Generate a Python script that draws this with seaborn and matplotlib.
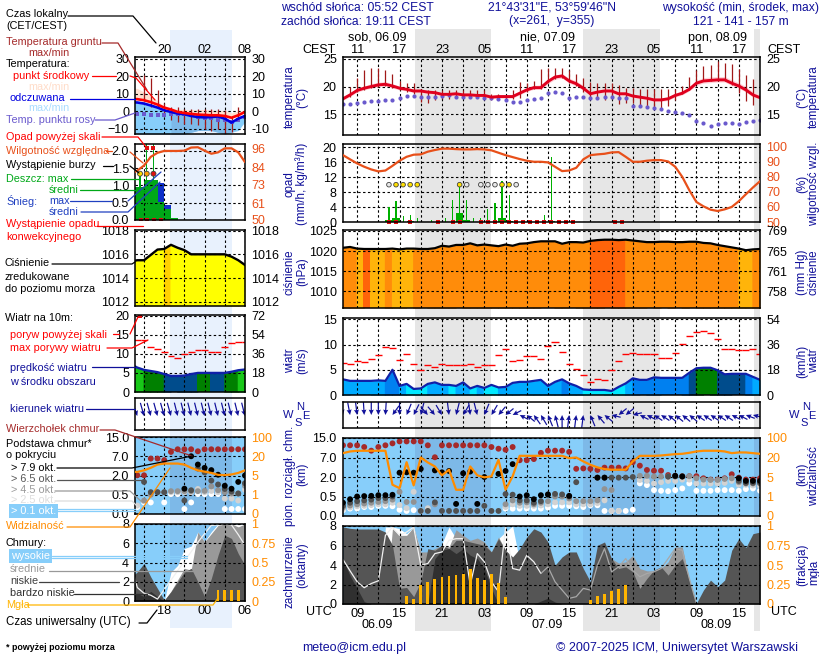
import numpy as np
import pandas as pd
import matplotlib.pyplot as plt
import seaborn as sns
from matplotlib.lines import Line2D

nan = np.nan

# main panels, one value per hour from 06.09 07 UTC
hours = list(range(60))
temp_mid = [17.8,18.5,19.3,19.7,20.0,20.3,20.4,20.1,19.7,19.5,19.2,19.2,19.0,18.9,18.6,18.6,18.7,18.5,18.5,18.4,18.4,18.1,18.2,18.2,18.2,18.8,19.4,19.8,19.8,20.9,21.7,21.9,21.0,20.5,19.7,18.7,19.0,19.2,19.2,18.7,18.7,18.3,18.1,17.9,17.6,17.6,17.8,18.4,18.8,19.5,20.6,21.0,21.1,21.2,21.2,20.6,20.1,19.4,18.5,18.0]
temp_upper = [18.1,18.8,19.7,20.1,20.5,20.8,20.9,20.5,20.1,19.8,19.5,19.5,19.3,19.2,18.9,18.9,19.0,18.8,18.8,18.7,18.7,18.4,18.5,18.5,18.5,19.1,19.8,20.2,20.3,21.3,22.1,22.3,21.5,21.0,20.2,19.1,19.4,19.6,19.6,19.1,19.0,18.6,18.4,18.2,17.9,17.9,18.1,18.8,19.2,20.0,21.1,21.6,21.7,21.8,21.8,21.2,20.7,20.0,19.1,18.4]
temp_lower = [17.5,18.2,19.0,19.4,19.7,20.0,20.1,19.7,19.4,19.2,18.9,18.9,18.7,18.6,18.3,18.3,18.4,18.2,18.2,18.1,18.1,17.8,17.9,17.9,17.9,18.5,19.1,19.5,19.5,20.5,21.3,21.5,20.6,20.1,19.3,18.4,18.7,18.9,18.9,18.4,18.4,18.0,17.8,17.6,17.3,17.3,17.5,18.1,18.5,19.2,20.2,20.6,20.7,20.8,20.8,20.2,19.7,19.0,18.1,17.7]
dew_point = [16.9,16.9,17.1,17.2,17.4,17.4,17.5,17.6,18.0,18.3,18.3,18.2,18.2,18.2,18.3,18.4,18.2,18.2,18.2,18.2,18.0,17.9,17.7,17.6,17.2,17.3,17.5,17.8,18.0,18.8,19.0,18.9,18.0,18.1,18.1,18.0,18.0,18.1,18.1,18.0,18.0,16.5,16.5,16.4,16.2,16.0,15.6,15.4,15.2,14.9,13.8,13.4,12.9,13.3,13.4,13.5,13.2,13.7,13.9,14.0]
ground_max = [18.0,20.0,21.5,23.0,23.3,23.3,22.9,22.3,21.0,20.6,20.6,19.5,19.3,19.3,19.3,19.3,19.3,19.3,19.3,19.3,19.3,18.7,18.7,18.3,19.3,20.9,20.7,21.0,23.1,23.3,23.3,23.3,22.9,22.3,21.6,20.8,20.7,20.7,20.7,20.2,19.8,19.7,19.5,19.5,19.5,19.5,19.5,19.5,20.1,21.7,23.0,23.7,23.8,24.5,24.3,24.1,23.2,22.0,21.3,18.7]
ground_min = [17.8,18.2,19.0,19.4,19.7,20.0,20.1,19.7,19.4,19.0,18.7,17.3,17.1,17.6,17.8,17.8,17.9,17.9,17.9,17.9,17.9,17.6,17.7,17.7,17.8,18.0,19.0,19.6,19.6,20.6,21.4,21.6,20.6,20.1,19.0,18.2,17.8,17.5,17.8,16.9,17.0,17.0,16.5,16.5,16.1,15.9,16.5,17.5,18.6,19.4,20.5,21.0,21.0,21.0,21.0,20.2,18.9,17.4,16.6,17.7]
humidity = [94.4,91.6,88.9,86.7,84.9,83.6,84.2,87.3,90.7,93.3,94.7,94.9,96.7,97.8,98.7,98.7,98.4,98.2,98.2,98.4,98.2,97.6,96.0,94.4,93.1,91.8,90.7,90.0,90.0,89.6,86.7,83.8,84.2,86.0,91.6,94.4,94.9,95.3,96.2,96.4,93.3,90.0,90.0,90.7,91.1,91.1,90.2,86.7,80.0,71.1,63.3,60.4,58.2,57.3,58.4,60.0,63.8,68.4,72.9,77.1]
rain_max = [0,0,0,0,0,0,4.0,5.5,1.5,2.0,1.0,0,0.5,0,1.0,6.0,9.8,5.8,1.0,1.2,3.6,5.0,11.0,7.3,0,0,0,0,2.0,17.5,0.6,0.5,0.3,0,0,0,0,0,0,0,0,0,0,0,0,0,0,0,0,0,0,0,0,0,0,0,0,0,0,0]
rain_mean = [0,0,0,0,0,0,0.5,1.2,0,0.4,0,0,0,0,0,0,2.3,0.6,0,0,0,0,1.2,0.4,0,0,0,0,0,0.3,0,0,0,0,0,0,0,0,0,0,0,0,0,0,0,0,0,0,0,0,0,0,0,0,0,0,0,0,0,0]
convective_hours = [6,7,9,13,15,16,19,20,21,22,23,24,25,26,27,28,29,30,31,32,38,39]
storm_hours = [6,7,8,9,10,16,17,19,20,21,22,23,24]
storm_kind = ['weak','likely','likely','likely','likely','likely','weak','weak','weak','weak','likely','likely','weak']
pressure = [1020.8,1021.0,1020.6,1020.5,1020.5,1020.5,1020.5,1020.6,1020.4,1020.6,1020.6,1020.5,1020.5,1020.7,1021.3,1021.1,1021.5,1021.5,1021.9,1021.4,1021.6,1021.4,1021.2,1021.6,1021.3,1021.8,1021.9,1022.2,1022.4,1022.4,1022.4,1021.8,1022.2,1022.2,1022.1,1022.5,1022.7,1022.8,1022.8,1022.7,1022.8,1022.6,1022.4,1022.2,1022.2,1022.3,1022.3,1022.2,1022.2,1022.3,1022.3,1022.0,1021.9,1021.5,1021.2,1020.9,1020.6,1020.2,1020.4,1020.5]
pressure_class = [1,1,0,2,0,0,1,0,0,0,1,1,1,1,1,1,1,1,1,1,1,1,1,1,1,1,1,1,1,1,1,1,1,1,1,2,2,2,2,2,1,1,1,1,1,1,1,1,1,1,1,1,1,1,1,1,0,0,1,1]
wind = [3.1,2.8,2.8,2.8,2.8,2.9,2.8,5.0,1.8,2.2,1.2,1.3,2.2,2.5,2.0,2.0,1.8,2.5,1.3,1.8,1.4,2.0,1.5,1.6,2.4,2.6,2.6,2.8,3.0,1.8,2.6,3.1,2.3,1.8,1.1,1.0,1.0,1.0,0.8,1.6,2.3,3.3,3.0,3.0,3.5,3.4,3.4,3.4,3.4,4.4,5.3,5.4,5.4,4.9,4.1,4.2,4.2,4.2,3.6,3.0]
wind_class = [1,1,1,1,1,1,2,2,1,0,0,0,1,1,1,0,1,1,0,1,0,0,1,1,1,1,1,1,1,1,1,2,1,1,0,0,0,0,0,0,1,2,2,2,2,2,2,2,2,3,4,4,4,3,3,3,3,2,1,1]
gust = [6.4,6.2,6.8,6.6,7.2,8.0,9.5,9.3,7.0,8.2,6.2,5.0,6.0,5.6,6.2,6.0,6.0,6.0,6.2,5.6,6.0,6.0,8.0,9.2,6.7,7.0,7.8,7.8,7.2,9.8,10.4,8.6,6.2,5.2,4.0,2.5,3.1,2.9,4.9,6.8,8.1,8.3,8.1,8.2,8.2,7.4,7.4,8.4,10.1,11.6,12.4,12.6,12.2,11.1,9.2,9.1,8.9,9.0,9.2,8.1]
wind_from = [345,345,350,355,0,0,5,45,0,30,35,20,310,310,320,350,20,40,350,340,30,40,50,60,70,110,120,135,140,150,160,180,190,190,190,150,130,120,100,60,60,80,110,110,115,115,120,120,120,120,115,115,115,115,115,110,110,105,100,95]
cloud_top = [12,12,12,11.3,9.8,11.3,12,12.8,13.6,13.6,13.6,13.6,12,7.1,12,12,12,12,12,12,12,11.3,10.6,10.2,11.3,6.3,6.3,6.6,8.9,9.8,9.8,9.8,9.3,4.1,4.2,4.1,3.8,4.4,4.4,4.4,4.2,5.8,4.9,3.8,3.6,3.6,2.5,2.3,2.2,2.2,2.2,1.9,1.8,1.8,1.9,2.7,1.95,1.8,1.8,1.9]
base_79 = [.34,.43,.5,.53,.55,.6,.6,.63,3.1,3.2,3.1,4.07,nan,3.7,3.2,3.55,.31,2.95,3.4,.31,2,nan,2.8,3.55,5.3,.5,.6,.43,.6,.65,nan,nan,.55,nan,nan,nan,1.95,1.95,nan,nan,nan,nan,nan,nan,nan,nan,nan,2.3,2.15,nan,nan,nan,nan,nan,nan,nan,1.9,1.7,1.7,1.7]
base_65 = [.26,.34,.38,.4,.42,.46,.46,.5,nan,nan,nan,.13,.13,.35,.13,.13,.13,.13,.13,.13,.26,.13,.13,.69,.64,.4,.4,.34,.38,.66,.7,.66,.5,1.6,nan,nan,1.95,1.95,1.95,1.95,1.95,2.0,nan,nan,nan,nan,2.1,2.2,2.1,nan,nan,nan,nan,nan,nan,nan,1.7,1.55,1.55,1.55]
base_45 = [.22,.27,.3,.32,.34,.36,.38,.42,.86,.36,.36,nan,nan,.3,nan,nan,nan,nan,nan,nan,nan,nan,nan,.3,.4,.34,.35,.3,.34,.38,.5,.5,.45,.38,.38,.38,.4,1.07,1.0,nan,nan,nan,2.3,2.3,2.1,2.1,2.1,2.1,2.2,2.2,1.9,1.8,1.77,1.77,1.85,1.9,1.6,1.5,1.5,1.5]
base_25 = [.18,.22,.25,.26,.28,.3,.3,.34,.28,.2,.86,.13,.2,nan,nan,nan,nan,nan,nan,nan,nan,nan,nan,.23,.3,.26,.26,.26,.27,.3,.35,.35,.35,.3,.3,.3,.33,.4,.13,.13,nan,nan,1.77,1.7,1.5,1.6,1.7,1.7,1.8,1.8,1.5,1.5,1.5,1.5,1.55,1.7,1.4,1.4,1.35,1.3]
base_01 = [.15,.19,.19,.23,.23,.26,.26,.25,.16,.13,.15,nan,nan,nan,nan,nan,nan,nan,nan,nan,nan,nan,nan,.19,.19,.19,.19,.19,.19,.215,.26,.26,.26,.25,.23,.276,.276,.13,.13,.13,.13,.16,1.51,1.38,.99,.94,.91,.99,1.12,1.51,.94,.94,.94,.99,.99,.99,.94,1.07,1.12,.94]
visibility = [37.9,44.8,47.6,47.6,47.6,47.6,47.6,3.41,2.72,16.4,3.28,20,16.2,13.1,6.3,10.6,2.38,2.38,13.1,6.3,4.93,5.5,18.2,2.38,5.5,26.9,26.9,26.9,26.9,26.9,26.9,26.9,19.5,20,17,14.4,12.4,11.1,10.6,10.6,10.6,17,26.9,26.9,26.9,28.3,31,33.8,35.2,39.3,44.8,47.6,47.6,47.6,44.8,37.9,40.7,40.7,37.9,35.2]
cover_high = [0,0,0,0,0,0,7.9,7.9,7.72,7.21,7.89,5.34,0,0,6.2,7.9,6.7,0,0,0,0,0,6.7,7.4,7.99,4.32]+[0]*34
cover_mid = [0]*7+[7.72,7.04,7.04,7.89,5.34,5.34,5.68,6.02,5.85,7.62,7.04,6.53,6.77,6.36,5.34,6.87,5.51,4.32]+[0]*13+[4.66,4.2,4.32,4.99,3.64,3.4,3.4,3.64,4.32,5.85,5.85,2.45]+[0]*10
cover_low = [7.9,7.76,7.69,7.69,7.69,7.69,7.38,6.02,1.6,1.7,.75,2.28,5.68,5.51,6.02,5.68,6.53,6.53,6.36,6.19,6.02,5.34,6.7,5.51,4.83,5.68,6.87,7.72,7.38,6.36,3.98,4.83,5.34,5.34,3.64,2.28,6.02,6.36,4.66,3.64,3.81,3.3,1.6,2.62,3.47,3.81,2.96,3.98,4.66,2.45,.07,1.43,2.45,1.77,2.45,5.51,6.7,5.78,7.21,7.38]
cover_very_low = [4.6,2.9,1.6,.24]+[0]*9+[4.66,5.51,5.68,5.17,5.68,5.0,4.66,3.64,1.6]+[0]*6+[.3,.6,.2]+[0]*29
cover_line = [4.56,3.4,2.28,1.67,2.1,2.38,7.04,7.89,7.04,7.38,7.89,3.98,4.15,5.17,5.34,6.53,6.7,6.7,1.94,5.17,4.32,2.28,1.26,7.89,3.64,3.47,5,4.32,3.13,3.81,2.28,1.43,.58,.75,1.6,1.43,3.98,5.68,3.3,3.81,4.66,3.47,2.79,3.13,3.3,3.64,4.66,5.68,5.51,2.62,.07]+[nan]*9
fog = [0]*9+[.10,.07,.24,.285,.315,.34,.36,.366,.39,.447,.328,.306,.39,.264,.085]+[0]*11+[.05,.10,.123,.17,.19,.243]+[0]*19

# left (observed) panels, hours UTC counted from 00 of 06.09
left_hours = list(range(13, 31))
left_temp = [7,6.9,6.3,5.2,3.8,2.1,1,-.4,-1,-1.5,-1.9,-2.1,-2.3,-2.3,-2.7,-3.7,-2.3,-.4]
left_temp_upper = [13.5,13,11,9,6,2.5,1.5,1.2,1,1,1,1,.8,.5,.5,-1,0,.5]
left_apparent = [5.2,5,4.4,3.3,2.1,.6,-.4,-1.3,-1.7,-2.7,-3.3,-3.5,-3.3,-3,-4.2,-6.5,-4.2,-2.7]
left_apparent_min = [-13,-13,-13,-13,-13,-13,-13,-13,-13,-12,-11,-11,-11,-12,-13,-12,-11,-6]
left_dew = [-1.4,-1.3,-1.4,-2,-2,-2,-1.5,-1.5,-1.5,-2,-3,-4,-4,-5,-5,-6,-5,-3]
left_ground_max = [nan,nan,20.8,19,12,5,2.5,2.5,1.5,1.5,1.5,1.5,1.5,1.5,.5,-3,2.5,0]
left_ground_min = [nan,nan,6,2.5,2.5,-1,-5,-6,-7,-7,-8,-10,-11,-10,-13,-12,-5,-2]
left_humidity = [79.7,82,85.3,90.9,93.5,94.7,94.7,94.7,94.9,96.9,97.1,94.9,92.9,93.8,96.4,96.4,93.8,87.5]
left_rain_mean = [.95,.95,1.15,1.15,.51,.32,.05,0,0,0,0,0,0,0,0,0,0,0]
left_snow_mean = [0,0,0,0,1.08,.42,0,0,0,0,0,0,0,0,0,0,0,0]
left_rain_max = [0,1.35,2.4,2.4,0,0,0,0,0,0,0,0,0,0,0,0,0,0]
left_convective = [14,15,16,17]
left_storm_hours = [14,15,16]
left_storm_kind = ['likely','strong','severe']
left_over_scale = [15,16]
left_pressure = [1015.4,1015.5,1015.5,1015.95,1016.4,1016.45,1016.8,1016.55,1016.35,1016,1016,1016,1016,1016,1016,1015.8,1015.5,1015.1]
left_pressure_class = [0,0,0,0,0,1,0,0,0,0,0,0,0,0,0,0,0,0]
left_wind = [7.3,6.4,5.8,5.5,5.2,4.7,4.2,4.2,4.3,4.7,5,5,5,5,5,5.3,5.7,5.9]
left_wind_class = [5,5,4,4,4,3,3,3,3,3,4,4,3,3,4,4,5,5]
left_gust = [13.6,13.6,13.6,11.7,11.4,10.6,9.5,8.8,9.9,10.6,10.9,11,10.6,10.6,11.7,12.8,13,13]
left_wind_from = [335,335,340,340,340,340,340,342,342,342,342,342,342,342,342,342,342,342]
left_top = [nan,2.05,2.05,6.4,6.4,6,8.8,9.9,9.9,9.9,9.07,9.9,9.9,9.9,9.9,9.9,9.9,9.9]
left_79 = [nan]*8+[.97,7,4.85,3.98,3.4,2.2,1.2,.97,1.5,2]
left_65 = [nan,nan,1.5,.7,.7,.7,nan,nan,.35,.85,3.8,2.8,1.6,1.3,.95,.75,.6,1.4]
left_45 = [nan,nan,.35,.5,.7,.7,.78,.78,.78,.78,.78,.8,1.15,.85,.7,.6,.6,1.2]
left_25 = [nan,.22,.35,.5,nan,nan,.7,.7,.7,.7,.95,.7,.8,.7,.4,.4,.35,.9]
left_01 = [nan,.18,.3,.3,nan,.3,.55,.55,.13,.3,.55,.55,.55,.55,.13,.13,.13,.13]
left_visibility = [7.8,7.8,9,11,13.5,14.3,14.3,14.3,13.5,11,9,8,7,5.5,5.3,5.8,7,9]
left_high = [0,0,0,0,0,0,3,3.7,5.45,5.7,7.17,6.2,7.2,8,8,8,8,8]
left_mid = [0,0,0,0,0,0,1,2.2,3.4,3.2,7.17,6.14,7,7.86,8,8,7.7,8]
left_low = [2.4,3.03,3.9,2.5,1.3,.1,.97,2,3,3.4,2,.45,2.34,4.76,6.83,6.5,4.93,3.72]
left_very_low = [.4,.8,.45,1,.45,0,0,0,0,0,0,0,0,0,0,0,0,0]
left_line = [4,1.4,.8,.6,.2,nan,nan,nan,nan,nan,6.1,7,7.86,7.9,8,7.9,6.9,5.8]
left_fog = [0]*13+[.14,.14,.14,.14,0]

# axis labels
main_top_labels = ['11','17','23','05','11','17','23','05','11','17']
main_bottom_labels = ['09','15','21','03','09','15','21','03','09','15']
left_top_labels = ['20','02','08']
left_bottom_labels = ['18','00','06']
base_ticks = [0, 0.5, 2, 7, 15]
vis_ticks = [0, 1, 5, 20, 100]

NAVY = '#10109a'
ORANGE = '#ff8c00'
RH_COLOR = '#e8501a'
SKY = '#87cefa'
SKY_NIGHT = '#7db9e8'
PRESSURE_COLORS = ['#ffb40a', '#ff8c0a', '#ff640a']
LEFT_PRESSURE_COLORS = ['#ffff00', '#ffd000']
WIND_COLORS = ['#00e8ff', '#00aaff', '#0080f0', '#004c8c', '#008000', '#18c818']
LAYER_COLORS = {'top': '#a52a2a', 'b01': '#ffffff', 'b25': '#d2d2d2', 'b45': '#929292',
                'b65': '#505050', 'b79': '#000000'}
STORM_COLORS = {'weak': '#e8e8e8', 'likely': '#ffe000', 'strong': '#ffa000', 'severe': '#e01010'}

W, H = 820, 660
sns.set_style('white')
plt.rcParams['font.family'] = ['Liberation Sans', 'DejaVu Sans']
plt.rcParams['font.size'] = 8.7

fig = plt.figure(figsize=(W / 100, H / 100), dpi=100, facecolor='white')


def panel(x0, y0, x1, y1, xlim, ylim, grid_x, grid_y):
    ax = fig.add_axes([x0 / W, 1 - y1 / H, (x1 - x0) / W, (y1 - y0) / H])
    ax.patch.set_visible(False)
    ax.set_xlim(xlim)
    ax.set_ylim(ylim)
    ax.set_xticks(grid_x)
    ax.set_xticklabels([])
    ax.set_yticks(grid_y)
    ax.tick_params(length=0, pad=4.5, labelsize=9, colors='black')
    ax.grid(True, color='black', linestyle=(0, (2.2, 2.2)), linewidth=0.8)
    ax.set_axisbelow(False)
    for s in ax.spines.values():
        s.set_linewidth(1.1)
        s.set_color('black')
        s.set_zorder(6)
    return ax


def right_axis(ax, ylim, ticks, labels, color='black', scale_fn=None):
    tw = ax.twinx()
    if scale_fn:
        scale_fn(tw)
    tw.set_ylim(ylim)
    tw.set_yticks(ticks)
    tw.set_yticklabels(labels)
    tw.tick_params(length=0, pad=4.5, labelsize=9, colors=color)
    tw.minorticks_off()
    tw.grid(False)
    for s in tw.spines.values():
        s.set_visible(False)
    return tw


def line(ax, x, y, color, lw, z=3):
    sns.lineplot(x=x, y=y, ax=ax, color=color, linewidth=lw, estimator=None,
                 legend=False, zorder=z)
    ax.set_xlabel('')
    ax.set_ylabel('')


def class_fill(ax, x, y, classes, colors, base, xmax):
    # later columns overlap the earlier ones a little so no seam shows
    for i in range(len(x)):
        nx = x[i + 1] if i + 1 < len(x) else xmax
        ny = y[i + 1] if i + 1 < len(y) else y[i]
        ax.fill_between([x[i] - 0.15, x[i], nx], [y[i], y[i], ny], base, color=colors[classes[i]],
                        linewidth=0, zorder=1 + i * 0.001)


def base_points(ax, x, top, b79, b65, b45, b25, b01, size):
    frames = []
    for name, vals in [('top', top), ('b01', b01), ('b25', b25), ('b45', b45), ('b65', b65), ('b79', b79)]:
        frames.append(pd.DataFrame({'x': x, 'km': vals, 'layer': name}))
    df = pd.concat(frames, ignore_index=True).dropna()
    sns.scatterplot(data=df, x='x', y='km', hue='layer', palette=LAYER_COLORS, s=size, ax=ax,
                    legend=False, linewidth=0, zorder=4)
    ax.set_xlabel('')
    ax.set_ylabel('')


def base_scale(ax):
    ax.set_yscale('function', functions=(lambda v: np.interp(v, base_ticks, range(5)),
                                         lambda p: np.interp(p, range(5), base_ticks)))


def arrows(ax, x, dirs, dx, dy):
    rad = np.deg2rad(dirs)
    ax.quiver(x, np.zeros(len(x)), -np.sin(rad) * dx, -np.cos(rad) * dy, angles='xy',
              scale_units='xy', scale=1, pivot='tip', color='#10109a', units='dots', width=1.2,
              headwidth=4.2, headlength=4.5, headaxislength=4, zorder=4)


# night shading behind everything
MX0, MX1 = 343, 760
LX0, LX1 = 135.3, 245.3
MAIN_LIM = (0, 59)
LEFT_LIM = (13.7, 30.05)
NIGHTS = [(10.2, 20.9), (34, 44.9), (58.1, 59)]
LEFT_NIGHT = (18.84, 28)
bg = fig.add_axes([MX0 / W, 1 - 631 / H, (MX1 - MX0) / W, (631 - 29) / H], zorder=-1)
bg.set_xlim(MAIN_LIM)
bg.axis('off')
for a, b in NIGHTS:
    bg.axvspan(a, b, color='#e6e6e6', linewidth=0)
bg2 = fig.add_axes([LX0 / W, 1 - 628 / H, (LX1 - LX0) / W, (628 - 30) / H], zorder=-1)
bg2.set_xlim(LEFT_LIM)
bg2.axis('off')
bg2.axvspan(*LEFT_NIGHT, color='#e8f1fd', linewidth=0)

main_grid = list(range(2, 60, 3))
left_grid = [15, 18, 21, 24, 27, 30]
t_arr = np.array(hours)
l_arr = np.array(left_hours)

# temperature
ax = panel(MX0, 57, MX1, 135, MAIN_LIM, (11.3, 25.3), main_grid, [15, 20, 25])
right_axis(ax, (11.3, 25.3), [15, 20, 25], ['15', '20', '25'])
ax.fill_between(hours, temp_lower, temp_upper, color='#ffd2d8', linewidth=0, zorder=1)
ax.vlines(t_arr, ground_min, ground_max, color='#a01818', linewidth=0.9, zorder=2.6)
sns.scatterplot(x=hours, y=dew_point, color='#6a5acd', s=9, linewidth=0, ax=ax, zorder=3, legend=False)
line(ax, hours, temp_mid, '#e0001e', 2.1, 5)
ax.tick_params(axis='x', labeltop=True, labelbottom=False, pad=1)
ax.set_xticks(main_grid)
ax.set_xticklabels([main_top_labels[i // 2] if i % 2 == 0 else '' for i in range(len(main_grid))],
                   fontsize=9.2)

lt = panel(LX0, 57, LX1, 134, LEFT_LIM, (-13, 31), left_grid, [-10, 0, 10, 20, 30])
right_axis(lt, (-13, 31), [-10, 0, 10, 20, 30], ['-10', '0', '10', '20', '30'])
lt.fill_between(left_hours, left_temp, left_temp_upper, color='#ffe0d0', linewidth=0, zorder=1)
lt.fill_between(left_hours, left_apparent_min, left_apparent, color=SKY, linewidth=0, zorder=1)
lt.fill_between(left_hours, left_apparent_min, left_apparent, where=(l_arr >= 19) & (l_arr <= 28),
                color=SKY_NIGHT, linewidth=0, zorder=1.1)
lt.vlines(l_arr, left_ground_min, left_ground_max, color='#a01818', linewidth=0.9, zorder=2.6)
sns.scatterplot(x=left_hours, y=left_dew, color='#6a5acd', s=9, marker='s', linewidth=0, ax=lt, zorder=3, legend=False)
line(lt, left_hours, left_apparent, '#0000e0', 1.9, 4)
line(lt, left_hours, left_temp, '#ff0000', 1.9, 5)
lt.tick_params(axis='x', labeltop=True, labelbottom=False, pad=1)
lt.set_xticks(left_grid)
lt.set_xticklabels(['', left_top_labels[0], '', left_top_labels[1], '', left_top_labels[2]], fontsize=9.2)

# precipitation and humidity
ax = panel(MX0, 144, MX1, 222, MAIN_LIM, (0, 20.9), main_grid, [0, 4, 8, 12, 16, 20])
ax.bar(t_arr + 0.5, rain_mean, width=1.0, color='#00b000', linewidth=0, zorder=3)
ax.bar(t_arr + 0.5, rain_max, width=0.16, color='#00b000', linewidth=0, zorder=3)
sns.scatterplot(x=[h + 0.5 for h in convective_hours], y=[0.1] * len(convective_hours), color='#e01010',
                marker='s', s=6, linewidth=0, ax=ax, zorder=5, clip_on=False, legend=False)
sns.scatterplot(x=[h + 0.5 for h in storm_hours], y=[10] * len(storm_hours), hue=storm_kind, palette=STORM_COLORS,
                s=11, edgecolor='#404040', linewidth=0.6, ax=ax, zorder=5, legend=False)
tw = right_axis(ax, (50, 101.8), [50, 60, 70, 80, 90, 100], ['50', '60', '70', '80', '90', '100'], RH_COLOR)
line(tw, hours, humidity, RH_COLOR, 1.6, 4)

lp = panel(LX0, 144, LX1, 220, LEFT_LIM, (0, 2.2), left_grid, [0, 0.5, 1, 1.5, 2])
lp.set_yticklabels(['0.0', '0.5', '1.0', '1.5', '2.0'])
lp.bar(l_arr, left_snow_mean, width=1, align='edge', color='#1030c8', linewidth=0, zorder=2)
lp.bar(l_arr, left_rain_mean, width=1, align='edge', color='#00a818', linewidth=0, zorder=2.2)
lp.bar(l_arr + 0.4, left_rain_max, width=0.16, color='#00a818', linewidth=0, zorder=3)
sns.scatterplot(x=[h + 0.5 for h in left_convective], y=[0.01] * 4, color='#e01010', marker='s', s=5,
                linewidth=0, ax=lp, zorder=5, legend=False)
sns.scatterplot(x=[h + 0.4 for h in left_storm_hours], y=[1.34] * 3, hue=left_storm_kind, palette=STORM_COLORS,
                s=13, edgecolor='#404040', linewidth=0.6, ax=lp, zorder=5, legend=False)
sns.scatterplot(x=[h + 0.4 for h in left_over_scale], y=[2.09] * 2, color='#e01010', marker='s', s=7,
                linewidth=0, ax=lp, zorder=5, legend=False)
tw = right_axis(lp, (50, 99.2), [50, 61, 73, 84, 96], ['50', '61', '73', '84', '96'], RH_COLOR)
line(tw, left_hours, left_humidity, RH_COLOR, 1.6, 4)

# pressure
ax = panel(MX0, 230, MX1, 308, MAIN_LIM, (1005.9, 1025.2), main_grid, [1010, 1015, 1020, 1025])
class_fill(ax, hours, pressure, pressure_class, PRESSURE_COLORS, 1005.9, 59)
line(ax, hours, pressure, 'black', 1.6, 5)
right_axis(ax, (1005.9, 1025.2), [1010, 1015, 1020, 1025], ['758', '761', '765', '769'])

lr = panel(LX0, 230, LX1, 306, LEFT_LIM, (1011.64, 1018.05), left_grid, [1012, 1014, 1016, 1018])
class_fill(lr, left_hours, left_pressure, left_pressure_class, LEFT_PRESSURE_COLORS, 1011.64, 30.05)
line(lr, left_hours, left_pressure, 'black', 1.7, 5)
right_axis(lr, (1011.64, 1018.05), [1012, 1014, 1016, 1018], ['1012', '1014', '1016', '1018'])

# wind
ax = panel(MX0, 318, MX1, 395, MAIN_LIM, (0, 15.25), main_grid, [0, 5, 10, 15])
class_fill(ax, hours, wind, wind_class, WIND_COLORS, 0, 59)
line(ax, hours, wind, '#1020a8', 1.6, 5)
ax.hlines(gust, t_arr - 0.5, t_arr + 0.5, color='#ff0000', linewidth=1, zorder=5)
right_axis(ax, (0, 15.25), [0, 5, 10, 15], ['0', '18', '36', '54'])

lw_ax = panel(LX0, 315, LX1, 392, LEFT_LIM, (0, 20.2), left_grid, [0, 5, 10, 15, 20])
class_fill(lw_ax, left_hours, left_wind, left_wind_class, WIND_COLORS, 0, 30.05)
line(lw_ax, left_hours, left_wind, '#1020a8', 1.7, 5)
lw_ax.hlines(left_gust, l_arr - 0.5, l_arr + 0.5, color='#ff0000', linewidth=1, zorder=5)
sns.scatterplot(x=[14.4], y=[19.9], color='#e01010', marker='s', s=7, linewidth=0, ax=lw_ax, zorder=5, legend=False)
right_axis(lw_ax, (0, 20.2), [0, 5, 10, 15, 20], ['0', '18', '36', '54', '72'])

# wind direction
ax = panel(MX0, 402, MX1, 428, MAIN_LIM, (-13, 13), main_grid, [])
arrows(ax, t_arr, wind_from, 1.3, 13)
ld = panel(LX0, 398, LX1, 430, LEFT_LIM, (-14, 18), left_grid, [])
arrows(ld, l_arr, left_wind_from, 1.6, 14)

# cloud base and visibility
ax = panel(MX0, 438, MX1, 516, MAIN_LIM, (0, 15.6), main_grid, base_ticks)
base_scale(ax)
ax.set_ylim(0, 15.6)
ax.set_yticks(base_ticks)
ax.set_yticklabels(['0.0', '0.5', '2.0', '7.0', '15.0'])
ax.minorticks_off()
ax.axvspan(0, 59, color=SKY, linewidth=0, zorder=0)
for a, b in NIGHTS:
    ax.axvspan(a, b, color=SKY_NIGHT, linewidth=0, zorder=0.2)
base_points(ax, hours, cloud_top, base_79, base_65, base_45, base_25, base_01, 18)
tw = right_axis(ax, (0, 15.6), base_ticks, vis_ticks, ORANGE, base_scale)
vis_km = np.interp(np.interp(visibility, vis_ticks, range(5)), range(5), base_ticks)
line(tw, hours, vis_km, ORANGE, 1.6, 5)

lb = panel(LX0, 437, LX1, 514, LEFT_LIM, (0, 15.6), left_grid, base_ticks)
base_scale(lb)
lb.set_ylim(0, 15.6)
lb.set_yticks(base_ticks)
lb.set_yticklabels(['0.0', '0.5', '2.0', '7.0', '15.0'])
lb.minorticks_off()
lb.axvspan(*LEFT_LIM, color=SKY, linewidth=0, zorder=0)
lb.axvspan(*LEFT_NIGHT, color=SKY_NIGHT, linewidth=0, zorder=0.2)
base_points(lb, left_hours, left_top, left_79, left_65, left_45, left_25, left_01, 18)
tw = right_axis(lb, (0, 15.6), base_ticks, vis_ticks, ORANGE, base_scale)
left_vis_km = np.interp(np.interp(left_visibility, vis_ticks, range(5)), range(5), base_ticks)
line(tw, left_hours, left_vis_km, ORANGE, 1.6, 5)

# cloud cover and fog
ax = panel(MX0, 526, MX1, 604, MAIN_LIM, (0, 8), main_grid, [0, 2, 4, 6, 8])
ax.axvspan(0, 59, color=SKY, linewidth=0, zorder=0)
for a, b in NIGHTS:
    ax.axvspan(a, b, color='#80c2f2', linewidth=0, zorder=0.2)
ax.fill_between(hours, cover_high, color='white', linewidth=0, zorder=1)
ax.fill_between(hours, cover_mid, color='#999999', linewidth=0, zorder=1.2)
ax.fill_between(hours, cover_low, color='#555555', linewidth=0, zorder=1.4)
ax.fill_between(hours, cover_very_low, color='#303030', linewidth=0, zorder=1.6)
line(ax, hours[:29], cover_line[:29], '#f0f0f0', 0.9, 2.2)
line(ax, hours[28:], cover_line[28:], '#a8a8a8', 0.9, 2.2)
ax.set_xticks(main_grid)
ax.set_xticklabels([main_bottom_labels[i // 2] if i % 2 == 0 else '' for i in range(len(main_grid))], fontsize=9.2)
ax.tick_params(axis='x', pad=3)
tw = right_axis(ax, (0, 1), [0, .25, .5, .75, 1], ['0', '0.25', '0.5', '0.75', '1'], ORANGE)
tw.bar(hours, fog, width=0.4, color='#ffb400', linewidth=0, zorder=3)

lc = panel(LX0, 524, LX1, 601, LEFT_LIM, (0, 8), left_grid, [0, 2, 4, 6, 8])
lc.axvspan(*LEFT_LIM, color=SKY, linewidth=0, zorder=0)
lc.axvspan(*LEFT_NIGHT, color='#80c2f2', linewidth=0, zorder=0.2)
lc.fill_between(left_hours, left_high, color='white', linewidth=0, zorder=1)
lc.fill_between(left_hours, left_mid, color='#999999', linewidth=0, zorder=1.2)
lc.fill_between(left_hours, left_low, color='#555555', linewidth=0, zorder=1.4)
lc.fill_between(left_hours, left_very_low, color='#303030', linewidth=0, zorder=1.6)
line(lc, left_hours, left_line, '#f0f0f0', 0.9, 2.2)
lc.set_xticks(left_grid)
lc.set_xticklabels(['', left_bottom_labels[0], '', left_bottom_labels[1], '', left_bottom_labels[2]], fontsize=9.2)
lc.tick_params(axis='x', pad=3)
tw = right_axis(lc, (0, 1), [0, .25, .5, .75, 1], ['0', '0.25', '0.5', '0.75', '1'], ORANGE)
tw.bar(left_hours, left_fog, width=0.42, color='#ffb400', linewidth=0, zorder=3)


def ftext(x, y, s, color='black', ha='left', rot=0, size=8.7, **kw):
    fig.text(x / W, 1 - y / H, s, color=color, ha=ha, va='center', rotation=rot, fontsize=size,
             rotation_mode='anchor' if rot == 0 else 'default', **kw)


# header and footer
ftext(281, 8, 'wschód słońca: 05:52 CEST', NAVY)
ftext(281, 22, 'zachód słońca: 19:11 CEST', NAVY)
ftext(552, 8, "21°43'31''E, 53°59'46''N", NAVY, ha='center')
ftext(552, 21, '(x=261,  y=355)', NAVY, ha='center')
ftext(741, 8, 'wysokość (min, środek, max)', NAVY, ha='center')
ftext(741, 22, '121 - 141 - 157 m', NAVY, ha='center')
for x, s in [(377.5, 'sob, 06.09'), (548, 'nie, 07.09'), (718, 'pon, 08.09')]:
    ftext(x, 38, s, ha='center', size=9)
for x in (319, 784):
    ftext(x, 50, 'CEST', ha='center', size=9)
    ftext(x, 612, 'UTC', ha='center', size=9)
for x, s in [(377.5, '06.09'), (547, '07.09'), (716, '08.09')]:
    ftext(x, 625, s, ha='center', size=9)
ftext(354.6, 648, 'meteo@icm.edu.pl', NAVY, ha='center', size=9)
ftext(555.6, 648, '© 2007-2025 ICM, Uniwersytet Warszawski', NAVY, size=9)
ftext(6, 647, '* powyżej poziomu morza', size=6.4, fontweight='bold')
ftext(6, 622, 'Czas uniwersalny (UTC)', size=8.3)

# rotated panel titles
for y0, y1, a, b, c, d in [
    (97, 97, 'temperatura', '(°C)', '(°C)', 'temperatura'),
    (184, 184, 'opad', '(mm/h, kg/m³/h)', '(%)', 'wilgotność wzgl.'),
    (272, 272, 'ciśnienie', '(hPa)', '(mm Hg)', 'ciśnienie'),
    (361, 361, 'wiatr', '(m/s)', '(km/h)', 'wiatr'),
    (476, 474, 'pion. rozciągł. chm.', '(km)', '(km)', 'widzialność'),
    (572, 565, 'zachmurzenie', '(oktanty)', '(frakcja)', 'mgła'),
]:
    ftext(290, y0, a, NAVY, ha='center', rot=90, size=8.4)
    ftext(302, y1, b, NAVY, ha='center', rot=90, size=8.4)
    ftext(802, y1, c, NAVY, ha='center', rot=90, size=8.4)
    ftext(814, y0, d, NAVY, ha='center', rot=90, size=8.4)
for cx in (297, 803):
    ftext(cx - 9, 415, 'W', NAVY, ha='center', size=8)
    ftext(cx + 3, 407, 'N', NAVY, ha='center', size=8)
    ftext(cx + 9, 416, 'E', NAVY, ha='center', size=8)
    ftext(cx + 1, 423, 'S', NAVY, ha='center', size=8)

# left legend column
legend_items = [
    (6, 14, 'Czas lokalny', 'black'), (6, 26, '(CET/CEST)', 'black'),
    (6, 42, 'Temperatura gruntu', '#a52a2a'), (28, 53, 'max/min', '#a52a2a'),
    (6, 64, 'Temperatura:', 'black'), (13, 76, 'punkt środkowy', '#ff0000'),
    (28, 87, 'max/min', '#ffdcc8'), (10, 98, 'odczuwana', '#0000e0'),
    (28, 108, 'max/min', '#a8dcff'), (6, 120, 'Temp. punktu rosy', '#6a5acd'),
    (6, 137, 'Opad powyżej skali', '#ff0000'), (6, 151, 'Wilgotność względna', RH_COLOR),
    (6, 165, 'Wystąpienie burzy', 'black'), (6, 179, 'Deszcz: max', '#00a818'),
    (49, 190, 'średni', '#00a818'), (6, 201, 'Śnieg:', '#2040c0'), (49, 201, 'max', '#2040c0'),
    (49, 212, 'średni', '#2040c0'), (6, 224, 'Wystąpienie opadu', '#ff0000'),
    (6, 237, 'konwekcyjnego', '#ff0000'), (5, 263, 'Ciśnienie', 'black'),
    (5, 277, 'zredukowane', 'black'), (5, 289, 'do poziomu morza', 'black'),
    (5, 318, 'Wiatr na 10m:', 'black'), (10, 335, 'poryw powyżej skali', '#ff0000'),
    (10, 348, 'max porywy wiatru', '#ff0000'), (10, 368, 'prędkość wiatru', NAVY),
    (10, 382, 'w środku obszaru', NAVY), (10, 409, 'kierunek wiatru', NAVY),
    (6, 429, 'Wierzchołek chmur', '#a52a2a'), (6, 444, 'Podstawa chmur*', 'black'),
    (6, 455, 'o pokryciu', 'black'), (11, 468, '> 7.9 okt.', 'black'),
    (11, 479, '> 6.5 okt.', '#555555'), (11, 490, '> 4.5 okt.', '#999999'),
    (11, 500, '> 2.5 okt.', '#dddddd'), (6, 526, 'Widzialność', ORANGE),
    (6, 543, 'Chmury:', 'black'), (10, 569, 'średnie', '#999999'),
    (10, 581, 'niskie', '#404040'), (10, 593, 'bardzo niskie', '#303030'),
    (6, 605, 'Mgła', '#ffb400'),
]
for x, y, s, c in legend_items:
    ftext(x, y, s, c, size=7.8)
ftext(11, 511, '> 0.1 okt.', 'white', size=7.8, bbox=dict(facecolor=SKY, edgecolor='none', pad=1.2))
ftext(11, 556, 'wysokie', 'white', size=7.8, bbox=dict(facecolor=SKY, edgecolor='none', pad=1.2))

leaders = [
    ([68, 133, 156], [16, 16, 43], 'black'),
    ([102, 118, 147], [43, 43, 90], '#a52a2a'),
    ([92, 116], [76, 76], '#ff0000'), ([130, 136, 155], [76, 78, 100], '#ff0000'),
    ([70, 135], [99, 99], '#0000e0'),
    ([95, 115, 135], [120, 120, 113], '#6a5acd'),
    ([102, 138, 146], [137, 137, 147], '#ff0000'),
    ([106, 112], [151, 151], RH_COLOR), ([130, 143], [152, 163], RH_COLOR),
    ([103, 113], [166, 166], 'black'), ([130, 139], [166, 173], 'black'),
    ([71, 139], [179, 179], '#00a818'), ([80, 147], [190, 190], '#00a818'),
    ([70, 112], [201, 201], '#2040c0'), ([128, 161], [201, 172], '#2040c0'),
    ([81, 128, 160], [212, 212, 182], '#2040c0'),
    ([97, 143], [226, 226], '#ff0000'),
    ([52, 132, 135], [264, 264, 262], 'black'),
    ([113, 119], [334, 334], '#ff0000'), ([130, 138], [334, 317], '#ff0000'),
    ([107, 132, 148], [348, 348, 340], '#ff0000'),
    ([92, 135], [367, 367], NAVY), ([86, 135], [409, 409], NAVY),
    ([100, 115, 192], [430, 430, 456], '#a52a2a'),
    ([57, 132, 192], [468, 468, 456], 'black'),
    ([57, 143], [480, 480], '#555555'),
    ([55, 130, 143], [491, 491, 503], '#999999'),
    ([55, 132, 138], [501, 501, 507], '#dddddd'),
    ([55, 135], [509, 509], SKY), ([55, 135], [511, 511], SKY),
    ([67, 130, 170], [527, 527, 468], ORANGE),
    ([52, 187], [556, 556], SKY), ([52, 187], [558, 558], SKY),
    ([49, 193], [571, 571], '#999999'),
    ([39, 119], [582, 582], '#404040'), ([130, 135], [582, 582], '#404040'),
    ([74, 147], [594, 594], '#303030'),
    ([27, 213, 218], [605, 605, 598], '#ffb400'),
    ([139, 147, 157], [623, 623, 610], 'black'),
]
for xs, ys, c in leaders:
    fig.add_artist(Line2D([x / W for x in xs], [1 - y / H for y in ys], color=c, linewidth=0.9, zorder=10))

fig.savefig('out.png', dpi=100)
